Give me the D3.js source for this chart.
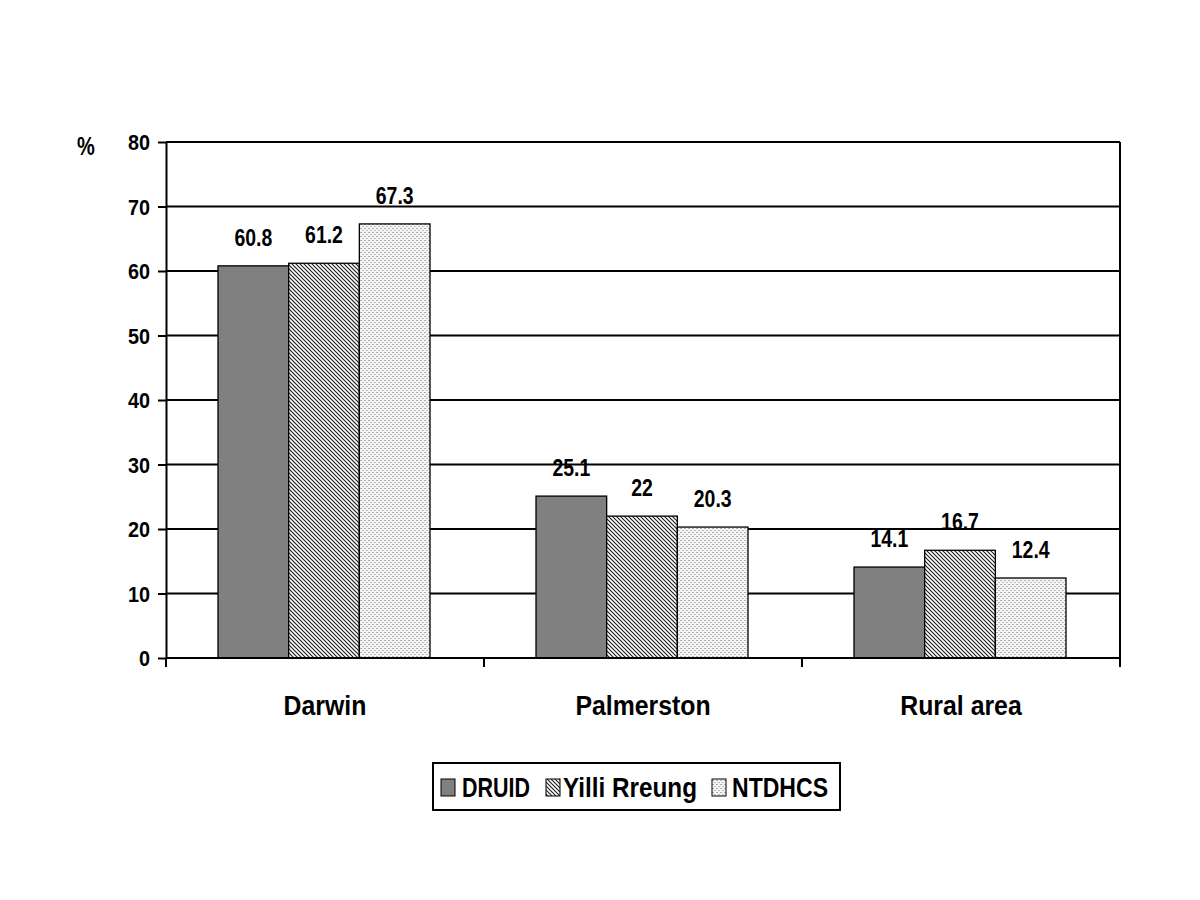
<!DOCTYPE html>
<html><head><meta charset="utf-8">
<script src="https://cdn.jsdelivr.net/npm/d3@7"></script>
<style>
body{margin:0;background:#fff;}
text{font-family:"Liberation Sans",Arial,sans-serif;font-weight:bold;fill:#000;}
</style></head>
<body><svg id="c" width="1200" height="900"></svg>
<script>
const categories = ["Darwin", "Palmerston", "Rural area"];
const seriesNames = ["DRUID", "Yilli Rreung", "NTDHCS"];
const druid = [60.8, 25.1, 14.1];
const yilli = [61.2, 22, 16.7];
const ntdhcs = [67.3, 20.3, 12.4];
const yTicks = [0, 10, 20, 30, 40, 50, 60, 70, 80];
const values = [druid, yilli, ntdhcs];

const svg = d3.select("#c");
const defs = svg.append("defs");
const ph = defs.append("pattern").attr("id","hatch").attr("patternUnits","userSpaceOnUse").attr("width",4).attr("height",4);
ph.append("rect").attr("width",4).attr("height",4).attr("fill","#fff");
ph.append("path").attr("d","M-1,-1 L5,5 M-1,3 L1,5 M3,-1 L5,1").attr("stroke","#222").attr("stroke-width",1.2);
const pd = defs.append("pattern").attr("id","dots").attr("patternUnits","userSpaceOnUse").attr("width",4).attr("height",4);
pd.append("rect").attr("width",4).attr("height",4).attr("fill","#f4f4f4");
pd.append("rect").attr("x",0).attr("y",0).attr("width",2).attr("height",1).attr("fill","#b0b0b0");
pd.append("rect").attr("x",2).attr("y",2).attr("width",2).attr("height",1).attr("fill","#c0c0c0");
const fills = ["#808080", "url(#hatch)", "url(#dots)"];

function ctext(parent, x, y, str, fs, sx, anchor) {
  return parent.append("text")
    .attr("transform", `translate(${x},${y}) scale(${sx},1)`)
    .attr("text-anchor", anchor || "start")
    .attr("font-size", fs).text(str);
}

const L = 166, R = 1120, T = 142, B = 658;
const x0 = d3.scaleBand().domain(categories).range([L, R]).paddingInner(0).paddingOuter(0);
const x1 = d3.scaleBand().domain(seriesNames).range([52, x0.bandwidth() - 54]);
const y = d3.scaleLinear().domain([0, 80]).range([B, T]);

svg.append("g").selectAll("line").data(yTicks.filter(d => d > 0)).join("line")
  .attr("x1", L).attr("x2", R).attr("y1", d => y(d)).attr("y2", d => y(d))
  .attr("stroke", "#000").attr("stroke-width", 2);
svg.append("line").attr("x1", R).attr("x2", R).attr("y1", T).attr("y2", B).attr("stroke", "#000").attr("stroke-width", 2);

const g = svg.append("g");
categories.forEach((c, i) => {
  seriesNames.forEach((s, j) => {
    const v = values[j][i];
    g.append("rect")
      .attr("x", x0(c) + x1(s)).attr("y", y(v))
      .attr("width", x1.bandwidth()).attr("height", y(0) - y(v))
      .attr("fill", fills[j]).attr("stroke", "#000").attr("stroke-width", 1.3);
    ctext(g, x0(c) + x1(s) + x1.bandwidth() / 2, y(v) - 20, v, 24, 0.81, "middle");
  });
});

const yAxis = d3.axisLeft(y).tickValues(yTicks).tickSize(8).tickFormat("").tickSizeOuter(0);
const ya = svg.append("g").attr("transform", `translate(${L},0)`).call(yAxis);
ya.select(".domain").attr("stroke", "#000").attr("stroke-width", 2);
ya.selectAll(".tick line").attr("stroke", "#000").attr("stroke-width", 2);
const yl = svg.append("g");
yTicks.forEach(t => ctext(yl, 150, y(t) + 8, t, 22, 0.9, "end"));

const xa = svg.append("g").attr("transform", `translate(0,${B})`);
xa.append("line").attr("x1", L).attr("x2", R).attr("y1", 0).attr("y2", 0).attr("stroke", "#000").attr("stroke-width", 2);
xa.selectAll("line.tk").data(d3.range(categories.length + 1)).join("line").attr("class","tk")
  .attr("x1", d => L + d * x0.bandwidth()).attr("x2", d => L + d * x0.bandwidth())
  .attr("y1", 0).attr("y2", 9).attr("stroke", "#000").attr("stroke-width", 2);
categories.forEach(c => ctext(xa, x0(c) + x0.bandwidth() / 2, 57, c, 27, 0.92, "middle"));

ctext(svg, 86, 155, "%", 25, 0.8, "middle");

const lg = svg.append("g");
lg.append("rect").attr("x", 433).attr("y", 763).attr("width", 407).attr("height", 47)
  .attr("fill", "#fff").attr("stroke", "#000").attr("stroke-width", 2);
const swX = [441, 546, 712];
const txX = [462, 563, 732];
const txW = [68, 134, 96];
seriesNames.forEach((s, j) => {
  lg.append("rect").attr("x", swX[j]).attr("y", 779).attr("width", 14).attr("height", 17)
    .attr("fill", fills[j]).attr("stroke", "#000").attr("stroke-width", 1);
  lg.append("text").attr("x", txX[j]).attr("y", 797).attr("font-size", 28)
    .attr("textLength", txW[j]).attr("lengthAdjust", "spacingAndGlyphs").text(s);
});
</script></body></html>
